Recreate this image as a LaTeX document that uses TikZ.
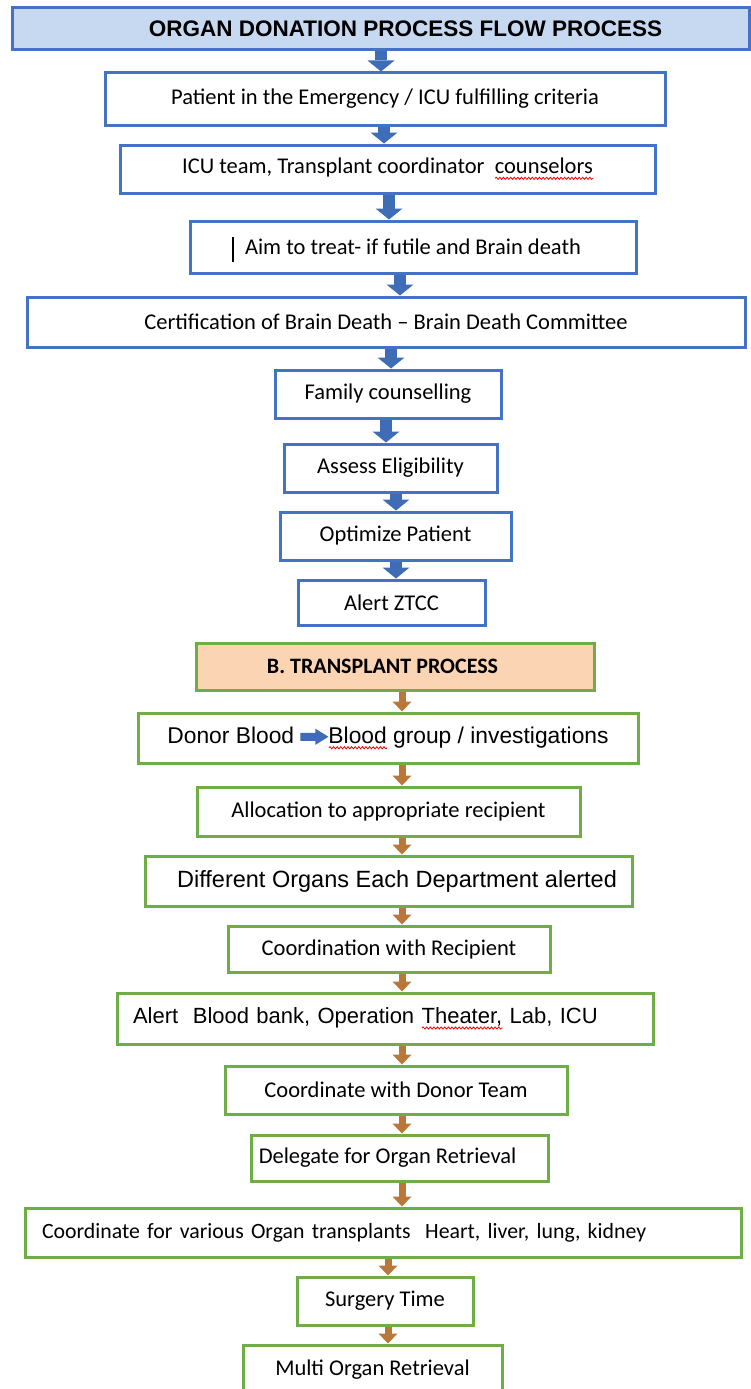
\documentclass[tikz,border=0pt]{standalone}
\usepackage{fontspec}
\setmainfont{Carlito}
\newfontfamily\arialf{Liberation Sans}
\usetikzlibrary{arrows.meta,calc,decorations.pathmorphing}
\definecolor{bblue}{HTML}{4472C4}
\definecolor{hdrfill}{HTML}{C6D9F1}
\definecolor{ggreen}{HTML}{70AD47}
\definecolor{peach}{HTML}{FBD4B4}
\definecolor{arrblue}{HTML}{3E6DB5}
\definecolor{arrbrown}{HTML}{B9773A}
\newsavebox\wavebox
\newcommand\redwave[1]{\sbox\wavebox{#1}\rlap{\tikz[baseline=0pt]\draw[red,line width=0.8pt,decorate,decoration={snake,amplitude=1.1pt,segment length=3.6pt}] (0pt,-4.5pt) -- (\wd\wavebox,-4.5pt);}#1}
\newcommand\inarrow{\tikz[baseline=0pt]\fill[arrblue] (0pt,2.5pt) -- (15pt,2.5pt) -- (15pt,-1.5pt) -- (28pt,6.5pt) -- (15pt,14.5pt) -- (15pt,10.5pt) -- (0pt,10.5pt) -- cycle;}
\newcommand\flowarr[4]{\coordinate (tmpx) at (#4,0); \draw[#1] (#2.south -| tmpx) -- (#3.north -| tmpx);}
\tikzset{
  cal/.style={font=\fontsize{22.5}{27}\selectfont},
  ari/.style={font=\arialf\fontsize{23.5}{28}\selectfont},
  bbox/.style={draw=bblue, line width=3pt, fill=white, rectangle, inner sep=0pt, cal},
  gbox/.style={draw=ggreen, line width=3pt, fill=white, rectangle, inner sep=0pt, cal},
  sz/.style 2 args={minimum width=#1pt, minimum height=#2pt},
  barrow/.style={arrblue, line width=12pt, -{Triangle[length=11pt,width=27pt,line width=0pt]}},
  oarrow/.style={arrbrown, line width=7pt, -{Triangle[length=10pt,width=19pt,line width=0pt]}},
}
\begin{document}
\begin{tikzpicture}[x=1pt,y=-1pt]
\useasboundingbox (0,0) rectangle (751,1389);
\fill[white] (0,0) rectangle (751,1389);

% Part A
\node[bbox, fill=hdrfill, sz={737}{42}, font=\arialf\bfseries\fontsize{22.5}{26}\selectfont] (hdr) at (380.5,29) {\hspace*{50pt}ORGAN DONATION PROCESS FLOW PROCESS};
\node[bbox, sz={560}{52}] (b1) at (385,99) {Patient in the Emergency / ICU fulfilling criteria};
\node[bbox, sz={535}{48}] (b2) at (387.5,169) {ICU team, Transplant coordinator\ \ \redwave{counselors}};
\node[bbox, sz={446}{52}] (b3) at (413,247) {Aim to treat- if futile and Brain death};
\node[bbox, sz={718}{50}] (b4) at (386,322) {Certification of Brain Death – Brain Death Committee};
\node[bbox, sz={226}{48}] (b5) at (388,394) {Family counselling};
\node[bbox, sz={213}{48}] (b6) at (390.5,468) {Assess Eligibility};
\node[bbox, sz={231}{48}] (b7) at (395.5,536) {Optimize Patient};
\node[bbox, sz={187}{45}] (b8) at (391.5,602.5) {Alert ZTCC};
\draw[line width=1.6pt] ($(b3.center)+(-180,-10)$) -- ($(b3.center)+(-180,15)$);

% Part B
\node[gbox, fill=peach, sz={398}{47}, font=\bfseries\fontsize{22}{26}\selectfont] (bh) at (395,666.5) {B. TRANSPLANT PROCESS\hspace*{25pt}};
\node[gbox, font=\arialf\fontsize{22.8}{28}\selectfont, sz={500}{50}] (c1) at (388,738) {Donor Blood \inarrow\redwave{Blood} group / investigations};
\node[gbox, sz={383}{49}] (c2) at (388.5,811.5) {Allocation to appropriate recipient};
\node[gbox, ari, sz={487}{50}] (c3) at (388.5,881) {\hspace*{17pt}Different Organs Each Department alerted};
\node[gbox, sz={322}{46}] (c4) at (389,949) {Coordination with Recipient};
\node[gbox, font=\arialf\fontsize{22}{28}\selectfont, sz={536}{51}, text width=504pt, inner xsep=16pt, align=left] (c5) at (385,1018.5) {Alert\ \ Blood bank, Operation \redwave{Theater,} Lab, ICU};
\node[gbox, sz={342}{48}] (c6) at (396,1090) {Coordinate with Donor Team};
\node[gbox, sz={297}{46}] (c7) at (399.5,1158) {Delegate for Organ Retrieval\hspace*{24pt}};
\node[gbox, font=\fontsize{21.8}{26}\selectfont, sz={716}{49}, text width=682pt, inner xsep=17pt, align=left] (c8) at (383,1232.5) {Coordinate for various Organ transplants\ \ Heart, liver, lung, kidney};
\node[gbox, sz={176}{48}] (c9) at (385,1301) {Surgery Time};
\node[gbox, sz={259}{50}] (c10) at (372.5,1370) {Multi Organ Retrieval};

% arrows
\flowarr{barrow}{hdr}{b1}{381}
\flowarr{barrow}{b1}{b2}{384}
\flowarr{barrow}{b2}{b3}{389}
\flowarr{barrow}{b3}{b4}{400}
\flowarr{barrow}{b4}{b5}{391}
\flowarr{barrow}{b5}{b6}{386}
\flowarr{barrow}{b6}{b7}{396}
\flowarr{barrow}{b7}{b8}{396}
\flowarr{oarrow}{bh}{c1}{402}
\flowarr{oarrow}{c1}{c2}{402}
\flowarr{oarrow}{c2}{c3}{402}
\flowarr{oarrow}{c3}{c4}{402}
\flowarr{oarrow}{c4}{c5}{402}
\flowarr{oarrow}{c5}{c6}{402}
\flowarr{oarrow}{c6}{c7}{402}
\flowarr{oarrow}{c7}{c8}{402}
\flowarr{oarrow}{c8}{c9}{388}
\flowarr{oarrow}{c9}{c10}{388}
\end{tikzpicture}
\end{document}
